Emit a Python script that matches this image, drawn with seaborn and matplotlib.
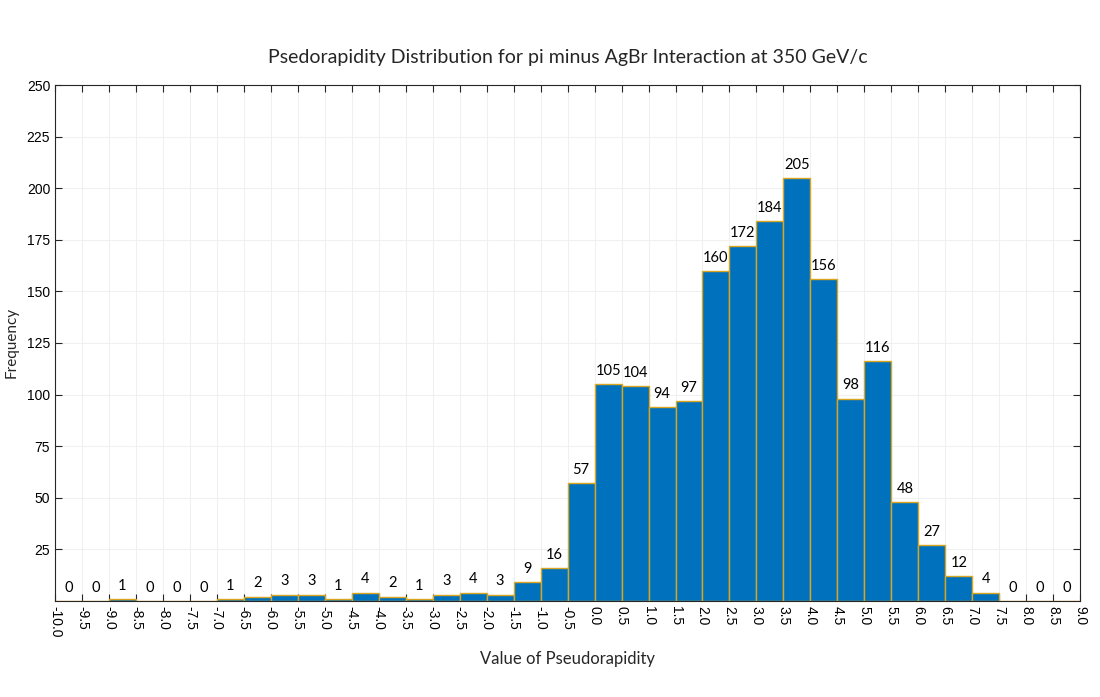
import numpy as np
import pandas as pd
import matplotlib
matplotlib.use("Agg")
import matplotlib.pyplot as plt
import seaborn as sns

# Data
bin_edges = [round(-10.0 + 0.5 * i, 1) for i in range(39)]
counts = [0, 0, 1, 0, 0, 0, 1, 2, 3, 3, 1, 4, 2, 1, 3, 4, 3, 9, 16, 57,
          105, 104, 94, 97, 160, 172, 184, 205, 156, 98, 116, 48, 27, 12, 4, 0, 0, 0]
bin_centers = [(a + b) / 2 for a, b in zip(bin_edges[:-1], bin_edges[1:])]
xtick_labels = [f"{v:.1f}" for v in bin_edges]
yticks = [25, 50, 75, 100, 125, 150, 175, 200, 225, 250]

title = "Psedorapidity Distribution for pi minus AgBr Interaction at 350 GeV/c"
xlabel = "Value of Pseudorapidity"
ylabel = "Frequency"

sns.set_theme(style="white")
plt.rcParams['font.family'] = ['Liberation Sans', 'DejaVu Sans']

df = pd.DataFrame({"center": bin_centers, "count": counts})

fig = plt.figure(figsize=(11, 6.97), dpi=100)
ax = fig.add_axes([0.05, 0.138, 0.932, 0.74])

sns.histplot(data=df, x="center", weights="count", bins=list(bin_edges), ax=ax,
             color="#0072BD", alpha=1.0, edgecolor="#DAA520", linewidth=1.0)

hand = ['Lato', 'DejaVu Sans']
for c, v in zip(bin_centers, counts):
    ax.text(c, v + 3, str(v), ha="center", va="bottom", fontsize=10.5,
            family=hand, color="black")

ax.set_xlim(-10, 9)
ax.set_ylim(0, 250)
ax.set_xticks(bin_edges)
ax.set_xticklabels(xtick_labels, rotation=-90, fontsize=10)
ax.set_yticks(yticks)
ax.set_yticklabels([str(t) for t in yticks], fontsize=10)
ax.grid(True, color="#f0f0f0", linewidth=0.8)
ax.set_axisbelow(True)
ax.tick_params(direction="in", length=5, width=0.8, top=True, right=True,
               bottom=True, left=True, colors="#262626", labelcolor="black")
for s in ax.spines.values():
    s.set_color("#262626")
    s.set_linewidth(0.8)
    s.set_visible(True)

ax.set_title(title, fontsize=14, family=hand, pad=16)
ax.set_xlabel(xlabel, fontsize=12, family=hand, labelpad=10)
ax.set_ylabel(ylabel, fontsize=11, family=hand, labelpad=6)

fig.savefig("out.png", dpi=100)
